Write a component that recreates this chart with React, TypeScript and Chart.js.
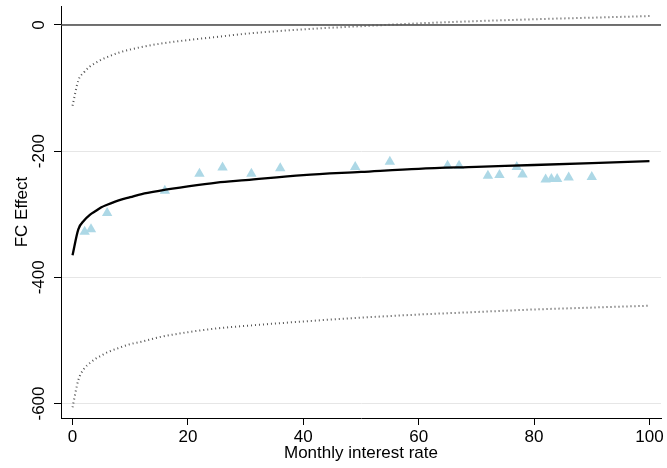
import React, { useEffect, useRef } from "react";
import { Chart, registerables } from "chart.js";

Chart.register(...registerables);

// Fitted curve
const fitX = [0, 1, 2, 3, 4, 5, 6, 8, 10, 12, 15, 20, 25, 30, 40, 50, 60, 70, 80, 90, 100];
const fitY = [-365, -324, -310, -301, -295, -289, -285, -278, -273, -268, -263, -256, -250, -246, -238, -233, -228, -225, -222, -219, -216];
// Upper confidence band
const upperY = [-128, -88, -75, -66, -60, -55, -51, -44, -39, -35, -30, -24, -19, -14, -7, -2, 2.5, 6, 9, 11.5, 14];
// Lower confidence band
const lowerY = [-606, -563, -545, -536, -529, -524, -519, -512, -506, -502, -495, -487, -481, -477, -470, -464, -459, -455, -451, -448, -445];

// Observed points (triangles)
const obsX = [2.1, 3.2, 6, 16, 22, 26, 31, 36, 49, 55, 65, 67, 72, 74, 77, 78, 82, 83, 84, 86, 90];
const obsY = [-328, -324, -298, -263, -236, -226, -236, -227, -225, -217, -223, -223, -239, -238, -225, -237, -245, -244, -244, -242, -241];

const xTicks = [0, 20, 40, 60, 80, 100];
const yTicks = [0, -200, -400, -600];
const xTitle = "Monthly interest rate";
const yTitle = "FC Effect";

const FONT = '17px "Liberation Sans", Arial, Helvetica, sans-serif';

const labelPlugin = {
  id: "stataLabels",
  afterDraw(chart: any) {
    const ctx = chart.ctx;
    const xs = chart.scales.x;
    const ys = chart.scales.y;
    const area = chart.chartArea;
    ctx.save();
    ctx.fillStyle = "#000";
    ctx.font = FONT;
    // x tick labels
    ctx.textAlign = "center";
    ctx.textBaseline = "alphabetic";
    xTicks.forEach((v) => {
      ctx.fillText(String(v), xs.getPixelForValue(v), area.bottom + 24);
    });
    // x title
    ctx.fillText(xTitle, (area.left + area.right) / 2, area.bottom + 40);
    // y tick labels (rotated)
    yTicks.forEach((v) => {
      ctx.save();
      ctx.translate(area.left - 17, ys.getPixelForValue(v));
      ctx.rotate(-Math.PI / 2);
      ctx.textAlign = "center";
      ctx.textBaseline = "alphabetic";
      ctx.fillText(String(v), 0, 0);
      ctx.restore();
    });
    // y title
    ctx.save();
    ctx.translate(27, (area.top + area.bottom) / 2);
    ctx.rotate(-Math.PI / 2);
    ctx.textAlign = "center";
    ctx.textBaseline = "alphabetic";
    ctx.fillText(yTitle, 0, 0);
    ctx.restore();
    ctx.restore();
  },
};

export default function App() {
  const ref = useRef<HTMLCanvasElement | null>(null);
  useEffect(() => {
    if (!ref.current) return;
    const pts = (ys: number[]) => fitX.map((x, i) => ({ x, y: ys[i] }));
    const chart = new Chart(ref.current, {
      type: "scatter",
      data: {
        datasets: [
          {
            label: "fit",
            type: "line",
            data: pts(fitY),
            borderColor: "#000",
            borderWidth: 2.3,
            pointRadius: 0,
            showLine: true,
            cubicInterpolationMode: "monotone",
            fill: false,
          } as any,
          {
            label: "upper",
            type: "line",
            data: pts(upperY),
            borderColor: "#555",
            borderWidth: 2,
            borderDash: [1, 3],
            borderCapStyle: "butt",
            pointRadius: 0,
            showLine: true,
            cubicInterpolationMode: "monotone",
            fill: false,
          } as any,
          {
            label: "lower",
            type: "line",
            data: pts(lowerY),
            borderColor: "#555",
            borderWidth: 2,
            borderDash: [1, 3],
            borderCapStyle: "butt",
            pointRadius: 0,
            showLine: true,
            cubicInterpolationMode: "monotone",
            fill: false,
          } as any,
          {
            label: "obs",
            data: obsX.map((x, i) => ({ x, y: obsY[i] })),
            pointStyle: "triangle",
            pointRadius: 6,
            pointBackgroundColor: "#ADD8E6",
            pointBorderColor: "#ADD8E6",
            pointBorderWidth: 0,
            showLine: false,
          } as any,
          {
            label: "zero",
            type: "line",
            data: [
              { x: -2, y: 0 },
              { x: 102, y: 0 },
            ],
            borderColor: "#444",
            borderWidth: 1.5,
            pointRadius: 0,
            showLine: true,
            fill: false,
          } as any,
        ],
      },
      options: {
        animation: false,
        responsive: false,
        maintainAspectRatio: false,
        layout: { padding: { top: 5, right: 4, left: 0, bottom: 0 } },
        plugins: {
          legend: { display: false },
          tooltip: { enabled: false },
        },
        scales: {
          x: {
            type: "linear",
            min: -2,
            max: 102,
            afterBuildTicks: (s: any) => {
              s.ticks = xTicks.map((v) => ({ value: v }));
            },
            afterFit: (s: any) => {
              s.height = 50;
            },
            ticks: { display: false },
            grid: {
              display: true,
              drawOnChartArea: false,
              drawTicks: true,
              tickLength: 7,
              tickColor: "#000",
              color: "#000",
              lineWidth: 1,
            },
            border: { display: true, color: "#000", width: 1 },
          },
          y: {
            type: "linear",
            min: -623,
            max: 30,
            afterBuildTicks: (s: any) => {
              s.ticks = yTicks.map((v) => ({ value: v }));
            },
            afterFit: (s: any) => {
              s.width = 61;
            },
            ticks: { display: false },
            grid: {
              display: true,
              drawOnChartArea: true,
              drawTicks: true,
              tickLength: 7,
              tickColor: "#000",
              color: "#e6e6e6",
              lineWidth: 1,
            },
            border: { display: true, color: "#000", width: 1 },
          },
        },
      },
      plugins: [labelPlugin],
    });
    return () => chart.destroy();
  }, []);
  return (
    <div style={{ position: "fixed", left: 0, top: 0, width: 667, height: 468, background: "#fff" }}>
      <canvas ref={ref} width={667} height={468} style={{ width: 667, height: 468, display: "block" }} />
    </div>
  );
}
